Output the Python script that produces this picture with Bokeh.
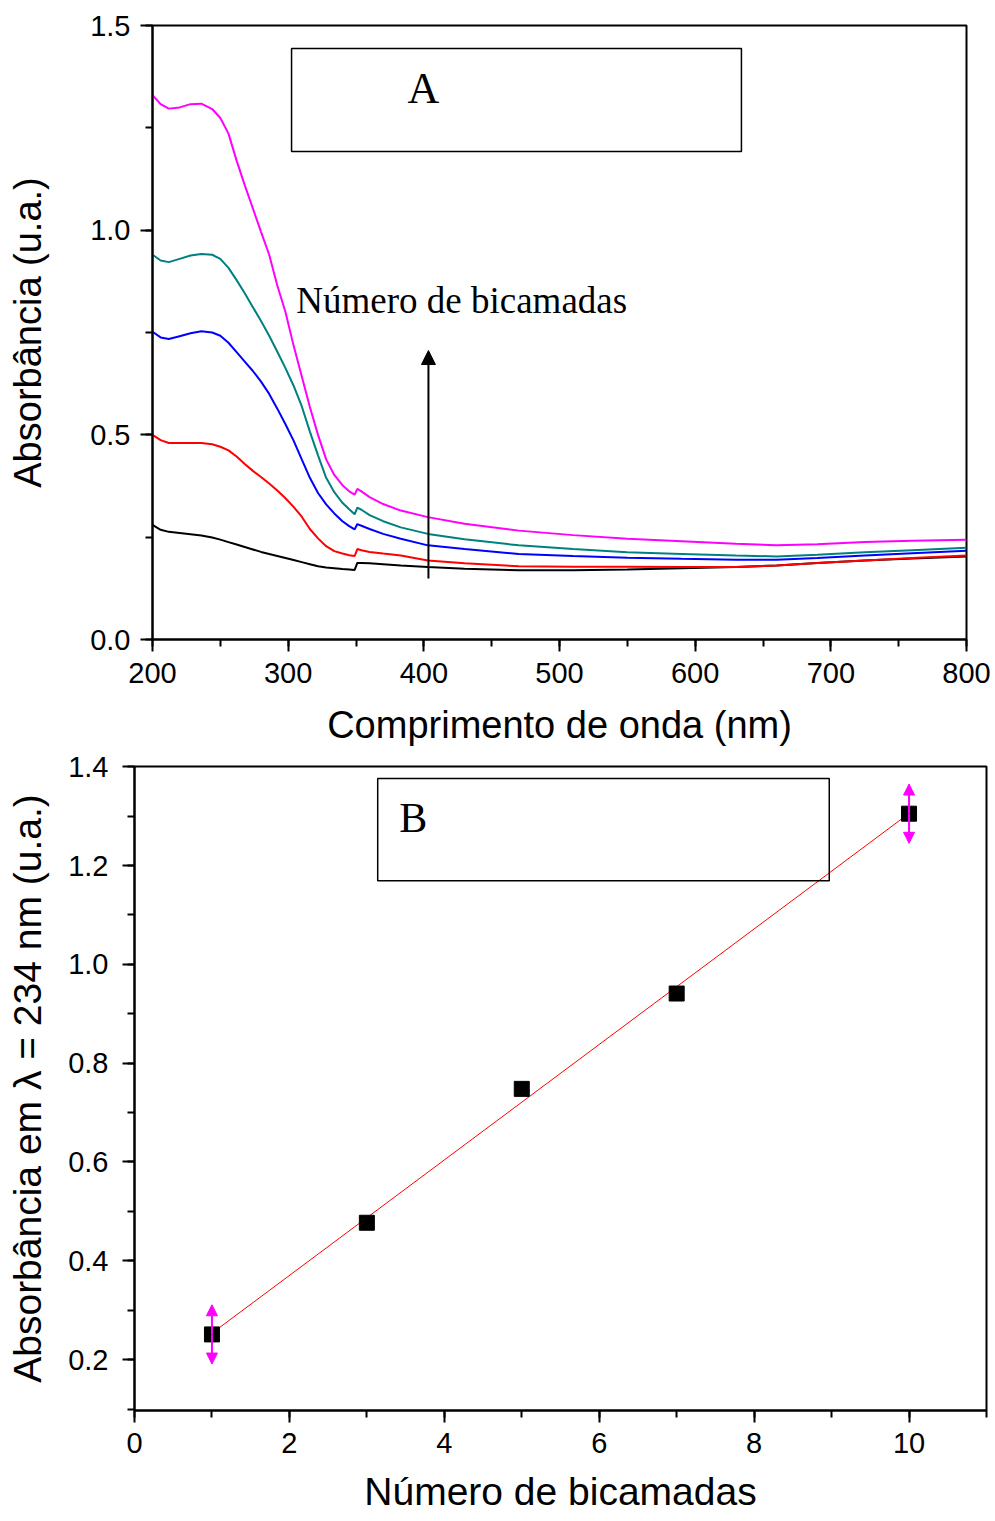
from bokeh.plotting import figure
from bokeh.models import (Range1d, SingleIntervalTicker, PrintfTickFormatter, BoxAnnotation,
                          Label, Arrow, NormalHead, ColumnDataSource)
from bokeh.embed import file_html
from bokeh.resources import INLINE
import numpy as np

# ---------------- Panel A data ----------------
wavelength = [200, 206, 212, 220, 228, 236, 244, 250, 256, 262, 268, 274, 280, 286, 292, 298,
              304, 310, 316, 322, 328, 334, 340, 345, 349, 351, 354, 360, 370, 383,
              403, 430, 470, 510, 550, 590, 630, 660, 690, 725, 760, 800]
abs_1 = [0.280, 0.268, 0.263, 0.260, 0.257, 0.254, 0.249, 0.244, 0.238, 0.232, 0.226, 0.220,
         0.214, 0.209, 0.204, 0.199, 0.194, 0.189, 0.184, 0.179, 0.176, 0.174, 0.172, 0.171,
         0.170, 0.187, 0.187, 0.186, 0.184, 0.181,
         0.177, 0.173, 0.169, 0.169, 0.171, 0.174, 0.177, 0.181, 0.187, 0.193, 0.198, 0.203]
abs_3 = [0.500, 0.487, 0.480, 0.480, 0.480, 0.480, 0.477, 0.471, 0.462, 0.447, 0.429, 0.412,
         0.397, 0.381, 0.364, 0.345, 0.324, 0.300, 0.270, 0.247, 0.228, 0.216, 0.210, 0.206,
         0.204, 0.221, 0.218, 0.214, 0.210, 0.205,
         0.193, 0.186, 0.179, 0.178, 0.178, 0.177, 0.177, 0.181, 0.187, 0.193, 0.199, 0.205]
abs_5 = [0.752, 0.738, 0.734, 0.741, 0.748, 0.753, 0.750, 0.742, 0.725, 0.702, 0.679, 0.656,
         0.630, 0.600, 0.564, 0.526, 0.486, 0.440, 0.395, 0.358, 0.330, 0.308, 0.289, 0.277,
         0.269, 0.282, 0.278, 0.270, 0.258, 0.246,
         0.230, 0.221, 0.209, 0.204, 0.200, 0.197, 0.195, 0.195, 0.199, 0.205, 0.211, 0.217]
abs_7 = [0.940, 0.926, 0.922, 0.930, 0.938, 0.942, 0.940, 0.930, 0.908, 0.878, 0.846, 0.812,
         0.778, 0.742, 0.703, 0.663, 0.620, 0.570, 0.508, 0.450, 0.395, 0.360, 0.334, 0.318,
         0.306, 0.322, 0.317, 0.304, 0.289, 0.274,
         0.258, 0.245, 0.230, 0.221, 0.213, 0.209, 0.205, 0.203, 0.207, 0.213, 0.218, 0.224]
abs_10 = [1.330, 1.308, 1.297, 1.300, 1.308, 1.309, 1.296, 1.274, 1.236, 1.170, 1.110, 1.053,
          0.996, 0.940, 0.865, 0.800, 0.718, 0.643, 0.568, 0.500, 0.440, 0.402, 0.377, 0.362,
          0.354, 0.368, 0.362, 0.348, 0.331, 0.315,
          0.299, 0.283, 0.266, 0.255, 0.246, 0.240, 0.234, 0.230, 0.233, 0.238, 0.241, 0.244]
series_a = [abs_1, abs_3, abs_5, abs_7, abs_10]
colors_a = ["#000000", "#FF0000", "#0000FF", "#008080", "#FF00FF"]

# ---------------- Panel B data ----------------
bilayers = [1, 3, 5, 7, 10]
abs_234 = [0.251, 0.477, 0.748, 0.941, 1.305]
abs_err = [0.06, 0.0, 0.0, 0.0, 0.06]

SANS = "Liberation Sans"
SERIF = "Liberation Serif"


def style(p, label_size="38px", tick_size="29px"):
    p.xgrid.visible = False
    p.ygrid.visible = False
    p.outline_line_color = "black"
    p.outline_line_width = 2
    p.outline_line_alpha = 1
    p.background_fill_color = "white"
    p.border_fill_color = "white"
    for ax in (p.xaxis[0], p.yaxis[0]):
        ax.axis_line_width = 2
        ax.major_tick_line_width = 2
        ax.minor_tick_line_width = 2
        ax.major_tick_out = 12
        ax.major_tick_in = 0
        ax.minor_tick_out = 7
        ax.minor_tick_in = 0
        ax.major_label_text_font = SANS
        ax.major_label_text_font_size = tick_size
        ax.major_label_text_color = "black"
        ax.axis_label_text_font = SANS
        ax.axis_label_text_font_size = label_size
        ax.axis_label_text_font_style = "normal"
        ax.axis_label_text_color = "black"


# ---------------- Figure A ----------------
pA = figure(width=995, height=748, output_backend="svg", toolbar_location=None,
            x_range=Range1d(200, 800), y_range=Range1d(0, 1.5001),
            min_border_left=152, min_border_right=29, min_border_top=25, min_border_bottom=109)
style(pA)
pA.xaxis.ticker = SingleIntervalTicker(interval=100, num_minor_ticks=2)
pA.yaxis.ticker = SingleIntervalTicker(interval=0.5, num_minor_ticks=2)
pA.yaxis.formatter = PrintfTickFormatter(format="%.1f")
pA.xaxis.axis_label = "Comprimento de onda (nm)"
pA.yaxis.axis_label = "Absorbância (u.a.)"
pA.xaxis.major_label_standoff = 11
pA.yaxis.major_label_standoff = 10
pA.xaxis.axis_label_standoff = 18
pA.yaxis.axis_label_standoff = 38

for ys, c in zip(series_a, colors_a):
    pA.line(wavelength, ys, line_color=c, line_width=2)

pA.add_layout(BoxAnnotation(left=302.5, right=634.1, bottom=1.192, top=1.444,
                            fill_alpha=0, line_color="black", line_alpha=1, line_width=1.5))
pA.add_layout(Label(x=399.7, y=1.346, text="A", text_font=SERIF, text_font_size="44px",
                    text_align="center", text_baseline="middle", text_color="black"))
pA.add_layout(Label(x=306, y=0.828, text="Número de bicamadas", text_font=SERIF,
                    text_font_size="37px", text_align="left", text_baseline="middle",
                    text_color="black"))
pA.add_layout(Arrow(x_start=403.4, y_start=0.149, x_end=403.4, y_end=0.706,
                    line_color="black", line_width=2,
                    end=NormalHead(size=14, fill_color="black", line_color="black")))

# ---------------- Figure B ----------------
pB = figure(width=995, height=773, output_backend="svg", toolbar_location=None,
            x_range=Range1d(0, 11), y_range=Range1d(0.097, 1.4005),
            min_border_left=134, min_border_right=9, min_border_top=18, min_border_bottom=111)
style(pB, label_size="39px")
pB.xaxis.ticker = SingleIntervalTicker(interval=2, num_minor_ticks=2)
pB.yaxis.ticker = SingleIntervalTicker(interval=0.2, num_minor_ticks=2)
pB.yaxis.formatter = PrintfTickFormatter(format="%.1f")
pB.xaxis.axis_label = "Número de bicamadas"
pB.yaxis.axis_label = "Absorbância em λ = 234 nm (u.a.)"
pB.xaxis.major_label_standoff = 10
pB.yaxis.major_label_standoff = 14
pB.xaxis.axis_label_standoff = 14
pB.yaxis.axis_label_standoff = 16

# linear fit
coef = np.polyfit(bilayers, abs_234, 1)
fit_x = [bilayers[0], bilayers[-1]]
fit_y = [coef[0] * v + coef[1] for v in fit_x]
pB.line(fit_x, fit_y, line_color="#FF0000", line_width=1)

# error bars (arrows)
ex, ey0, ey1 = [], [], []
for xv, yv, ev in zip(bilayers, abs_234, abs_err):
    if ev > 0:
        ex += [xv, xv]
        ey0 += [yv, yv]
        ey1 += [yv + ev, yv - ev]
err_src = ColumnDataSource(dict(x0=ex, y0=ey0, x1=ex, y1=ey1))
pB.add_layout(Arrow(x_start="x0", y_start="y0", x_end="x1", y_end="y1", source=err_src,
                    line_color="#FF00FF", line_width=2,
                    end=NormalHead(size=11, fill_color="#FF00FF", line_color="#FF00FF")))

pB.scatter(bilayers, abs_234, marker="square", size=15, fill_color="black", line_color="black")

pB.add_layout(BoxAnnotation(left=3.14, right=8.97, bottom=1.169, top=1.376,
                            fill_alpha=0, line_color="black", line_alpha=1, line_width=1.5))
pB.add_layout(Label(x=3.60, y=1.297, text="B", text_font=SERIF, text_font_size="42px",
                    text_align="center", text_baseline="middle", text_color="black"))

open("out.html", "w").write(file_html((pA, pB), INLINE))
